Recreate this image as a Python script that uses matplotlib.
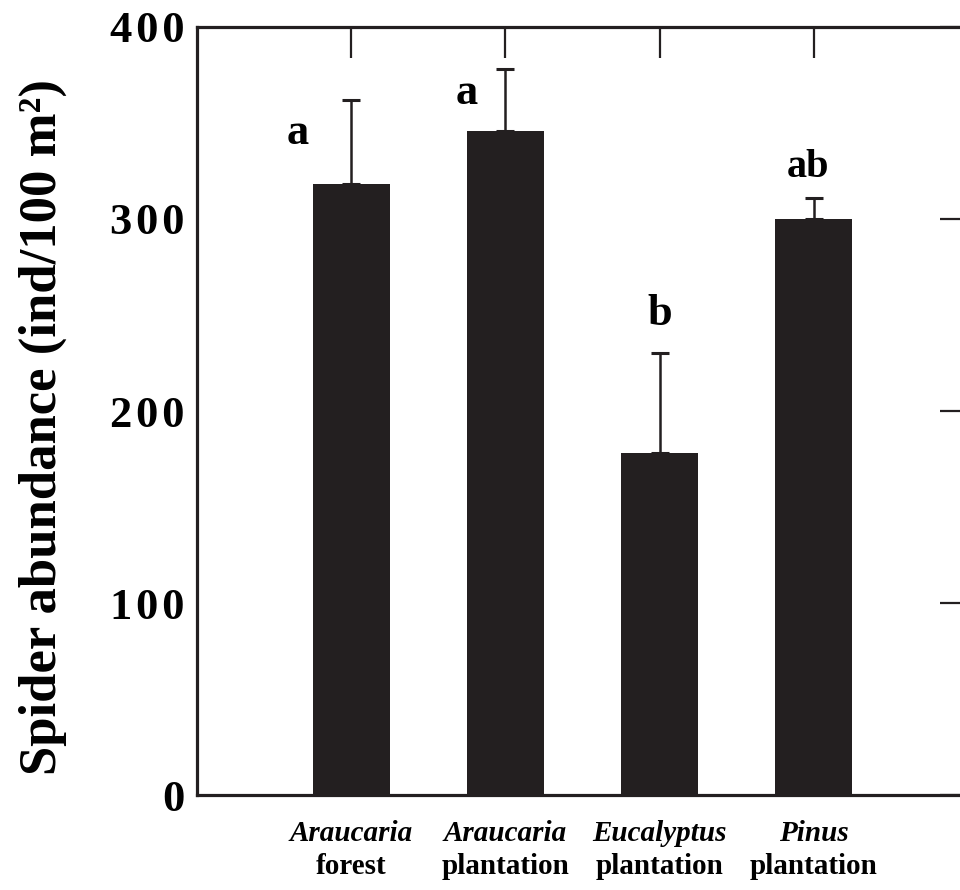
import matplotlib.pyplot as plt
import numpy as np

genus = ['Araucaria', 'Araucaria', 'Eucalyptus', 'Pinus']
habitat = ['forest', 'plantation', 'plantation', 'plantation']
abundance = [318, 346, 178, 300]
se_upper = [44, 32, 52, 11]
letters = ['a', 'a', 'b', 'ab']
y_ticks = [0, 100, 200, 300, 400]

plt.rcParams['font.family'] = ['Liberation Serif', 'DejaVu Serif']
plt.rcParams['font.weight'] = 'bold'

bar_color = '#231f20'

fig = plt.figure(figsize=(9.6, 8.9), dpi=100)
ax = fig.add_axes([0.2052, 0.1067, 0.803, 0.863])

x = np.arange(len(abundance))
ax.bar(x, abundance, width=0.5, color=bar_color, zorder=2)
ax.errorbar(x, abundance, yerr=[np.zeros(len(se_upper)), se_upper], fmt='none',
            ecolor=bar_color, elinewidth=1.8, capsize=6.5, capthick=2.2, zorder=1)

ax.set_xlim(-1, 4)
ax.set_ylim(0, 400)

for side in ['left', 'bottom', 'top', 'right']:
    ax.spines[side].set_linewidth(2.3)
    ax.spines[side].set_color(bar_color)

ax.set_yticks(y_ticks)
ax.set_yticklabels(['\u200a'.join(str(v)) for v in y_ticks], fontsize=32, fontweight='bold')
ax.tick_params(axis='y', left=False, right=True, direction='in', length=20,
               width=1.6, color=bar_color, pad=9)

ax.set_xticks(x)
ax.set_xticklabels([])
ax.tick_params(axis='x', bottom=False, top=True, direction='in', length=22,
               width=1.6, color=bar_color)

tr = ax.get_xaxis_transform()
for xi, g, h in zip(x, genus, habitat):
    ax.text(xi, -0.050, g, transform=tr, ha='center', va='center',
            fontsize=21, fontstyle='italic', fontweight='bold')
    ax.text(xi, -0.093, h, transform=tr, ha='center', va='center',
            fontsize=21, fontweight='bold')

# significance letters (baseline positions)
letter_pos = [(-0.344, 339), (0.747, 360), (2.0, 245), (2.96, 322)]
letter_size = [32, 32, 32, 29]
for (lx, ly), s, fs in zip(letter_pos, letters, letter_size):
    ax.text(lx, ly, s, ha='center', va='baseline', fontsize=fs, fontweight='bold')

fig.text(0.045, 0.52, 'Spider abundance (ind/100 m\u00b2)', rotation=90,
         ha='center', va='center', fontsize=38, fontweight='bold')

fig.savefig('out.png', dpi=100)
